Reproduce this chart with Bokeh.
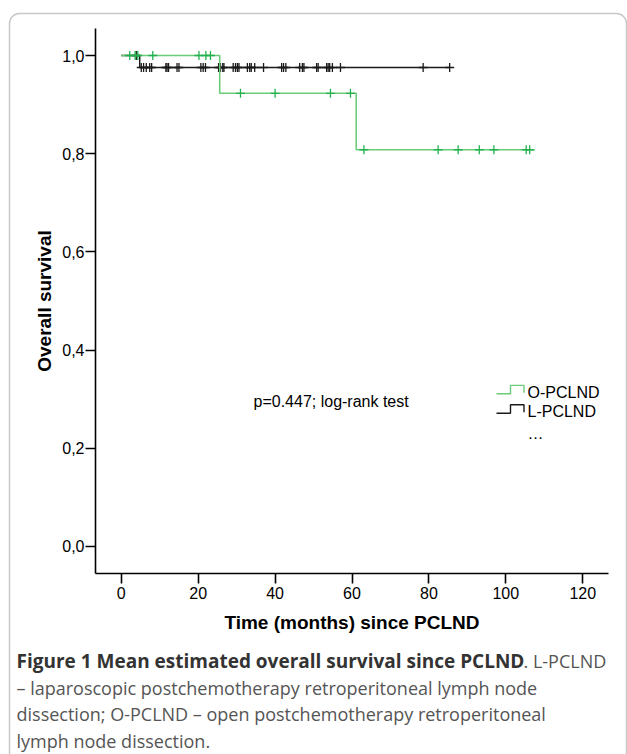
from bokeh.plotting import figure
from bokeh.models import FixedTicker, Label, BoxAnnotation
from bokeh.embed import file_html
from bokeh.resources import INLINE

# ---------------- data ----------------
# O-PCLND (open) Kaplan-Meier
o_event_times = [25.6, 61.1]
o_event_surv = [0.923, 0.808]
o_end_time = 107.5
o_censored = [2.2, 3.6, 4.3, 8.2, 20.2, 22.0, 23.2,
              31.0, 40.0, 54.4, 59.6,
              63.1, 82.4, 87.6, 93.1, 96.9, 105.3, 106.2]

# L-PCLND (laparoscopic) Kaplan-Meier
l_event_times = [4.8]
l_event_surv = [0.9756]
l_end_time = 85.4
l_censored = [3.9, 5.2, 5.8, 6.5, 7.4, 7.9, 11.6, 11.9, 12.3, 14.5, 15.0,
              20.7, 21.3, 21.9, 25.3, 25.8, 26.4, 26.7, 29.1, 29.7, 30.2,
              30.6, 32.8, 33.4, 33.8, 34.7, 37.0, 41.7, 42.2, 42.8, 46.4,
              47.1, 47.5, 50.8, 51.2, 53.4, 53.8, 54.2, 54.9, 57.0, 78.5, 85.4]

x_ticks = [0, 20, 40, 60, 80, 100, 120]
y_ticks = [0.0, 0.2, 0.4, 0.6, 0.8, 1.0]
y_tick_labels = ["0,0", "0,2", "0,4", "0,6", "0,8", "1,0"]

group_names = ["O-PCLND", "L-PCLND"]
p_text = "p=0.447; log-rank test"
x_title = "Time (months) since PCLND"
y_title = "Overall survival"
caption_bold = "Figure 1 Mean estimated overall survival since PCLND"
caption_lines = [". L-PCLND",
                 "\u2013 laparoscopic postchemotherapy retroperitoneal lymph node",
                 "dissection; O-PCLND \u2013 open postchemotherapy retroperitoneal",
                 "lymph node dissection."]

# ---------------- layout ----------------
W, H = 627, 754
X0, X1 = -6.7, 126.7          # axis extent (data)
Y0, Y1 = -0.055, 1.055
PL, PR, PT, PB = 95, 608, 28, 573   # axis box in picture pixels

kx = (X1 - X0) / (PR - PL)
ky = (Y1 - Y0) / (PB - PT)
XR0, XR1 = X0 - PL * kx, X1 + (W - PR) * kx
YR1, YR0 = Y1 + PT * ky, Y0 - (H - PB) * ky


def dx(px):
    return XR0 + px * kx


def dy(py):
    return YR1 - py * ky


GREEN_LINE = "#6acb78"
GREEN_MARK = "#22b14c"
BLACK = "#1a1a1a"

p = figure(width=W, height=H, x_range=(XR0, XR1), y_range=(YR0, YR1),
           output_backend="svg", toolbar_location=None,
           min_border_left=0, min_border_right=0,
           min_border_top=0, min_border_bottom=0)
p.grid.visible = False
p.outline_line_color = None
p.background_fill_color = "white"
p.border_fill_color = "white"


def km_steps(ev_t, ev_s, end_t):
    xs, ys = [0.0], [1.0]
    s = 1.0
    for t, v in zip(ev_t, ev_s):
        xs += [t, t]
        ys += [s, v]
        s = v
    xs.append(end_t)
    ys.append(s)
    return xs, ys


def km_at(times, ev_t, ev_s):
    out = []
    for t in times:
        s = 1.0
        for et, ev in zip(ev_t, ev_s):
            if t >= et:
                s = ev
        out.append(s)
    return out


lx, ly = km_steps(l_event_times, l_event_surv, l_end_time)
ox, oy = km_steps(o_event_times, o_event_surv, o_end_time)

p.line(lx, ly, line_color=BLACK, line_width=1.4)
p.scatter(l_censored, km_at(l_censored, l_event_times, l_event_surv),
          marker="cross", size=9, line_color=BLACK, line_width=1.3)
p.line(ox, oy, line_color=GREEN_LINE, line_width=1.6)
p.scatter(o_censored, km_at(o_censored, o_event_times, o_event_surv),
          marker="cross", size=9, line_color=GREEN_MARK, line_width=1.3)

# axes (fixed at the plot-box edges so the frame can span the whole canvas)
for ax in (p.xaxis[0], p.yaxis[0]):
    ax.axis_line_color = "black"
    ax.axis_line_width = 1.6
    ax.major_tick_line_color = "black"
    ax.major_tick_line_width = 1.6
    ax.major_tick_out = 10
    ax.major_tick_in = 0
    ax.minor_tick_line_color = None
    ax.major_label_text_font = "Liberation Sans"
    ax.major_label_text_font_size = "16px"
    ax.major_label_text_color = "black"
    ax.axis_label_text_font = "Liberation Sans"
    ax.axis_label_text_font_style = "bold"
    ax.axis_label_text_font_size = "19px"
    ax.axis_label_text_color = "black"

p.xaxis.fixed_location = Y0
p.yaxis.fixed_location = X0
p.xaxis.bounds = (X0, X1)
p.yaxis.bounds = (Y0, Y1)
p.xaxis.ticker = FixedTicker(ticks=x_ticks)
p.yaxis.ticker = FixedTicker(ticks=y_ticks)
p.yaxis.major_label_overrides = {t: l for t, l in zip(y_ticks, y_tick_labels)}
p.xaxis.axis_label = x_title
p.yaxis.axis_label = y_title
p.xaxis.major_label_standoff = 3
p.yaxis.major_label_standoff = 1
p.xaxis.axis_label_standoff = 10
p.yaxis.axis_label_standoff = 4

# p-value annotation
p.add_layout(Label(x=dx(253), y=dy(401), text=p_text, text_font="Liberation Sans",
                   text_font_size="16px", text_color="black",
                   text_baseline="middle"))

# legend with step symbols
leg_colors = [GREEN_LINE, BLACK]
leg_rows = [393.3, 412.7]
for name, col, row in zip(group_names, leg_colors, leg_rows):
    sx = [dx(496), dx(510), dx(510), dx(523.5), dx(523.5)]
    sy = [dy(row), dy(row), dy(row - 8.4), dy(row - 8.4), dy(row - 1)]
    p.line(sx, sy, line_color=col, line_width=1.4)
    p.add_layout(Label(x=dx(527), y=dy(row - 1.5), text=name, text_font="Liberation Sans",
                       text_font_size="16px", text_color="black",
                       text_baseline="middle"))
p.add_layout(Label(x=dx(527), y=dy(433), text="\u2026", text_font="Liberation Sans",
                   text_font_size="16px", text_color="black", text_baseline="middle"))

# rounded frame around figure + caption (canvas units, y from top)
p.add_layout(BoxAnnotation(left=9, right=626, top=13, bottom=790,
                           left_units="canvas", right_units="canvas",
                           top_units="canvas", bottom_units="canvas",
                           fill_color=None, line_color="#4a4a4a", line_width=1.5,
                           border_radius=10))

cap_font = "Open Sans"
p.add_layout(Label(x=16, y=660, x_units="canvas", y_units="canvas",
                   text=caption_bold, text_font=cap_font,
                   text_font_size="19px", text_font_style="bold",
                   text_color="#333333", text_baseline="middle"))
p.add_layout(Label(x=523, y=660, x_units="canvas", y_units="canvas",
                   text=caption_lines[0], text_font=cap_font,
                   text_font_size="18px", text_color="#555555", text_baseline="middle"))
for i, line in enumerate(caption_lines[1:]):
    p.add_layout(Label(x=16, y=687 + 26.8 * i, x_units="canvas", y_units="canvas",
                       text=line, text_font=cap_font,
                       text_font_size="18px", text_color="#555555",
                       text_baseline="middle"))

open("out.html", "w").write(file_html(p, INLINE))
